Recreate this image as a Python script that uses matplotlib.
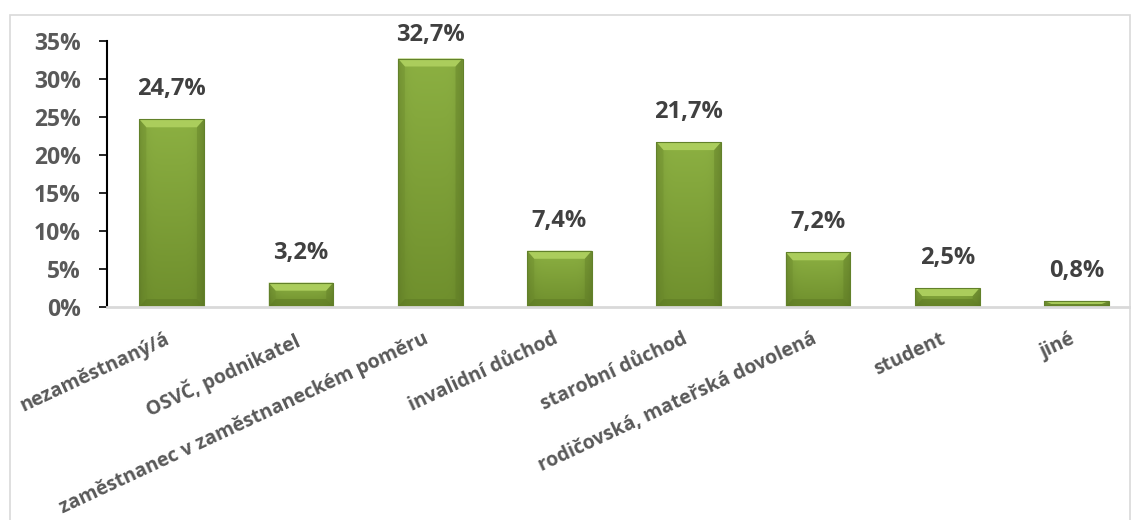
import numpy as np
import matplotlib
matplotlib.use('Agg')
import matplotlib.pyplot as plt
import matplotlib.transforms as mtransforms
from matplotlib.patches import Rectangle, Polygon
from matplotlib.colors import to_rgb
from matplotlib.ticker import FuncFormatter

plt.rcParams['font.family'] = ['Open Sans', 'DejaVu Sans']

categories = ['nezaměstnaný/á', 'OSVČ, podnikatel', 'zaměstnanec v zaměstnaneckém poměru',
              'invalidní důchod', 'starobní důchod', 'rodičovská, mateřská dovolená',
              'student', 'jiné']
values = [24.7, 3.2, 32.7, 7.4, 21.7, 7.2, 2.5, 0.8]
yticks = [0, 5, 10, 15, 20, 25, 30, 35]

DPI = 100
fig = plt.figure(figsize=(11.31, 5.2), dpi=DPI)
ax = fig.add_axes([0.0946, 0.4096, 0.9145, 0.5115])
ax.set_xlim(-0.5, 7.5)
ax.set_ylim(0, 35)

# outer chart frame
fig.patches.append(Rectangle((10 / 1131, -0.01), 1120 / 1131, 1 - 15 / 520 + 0.01,
                             transform=fig.transFigure, fill=False,
                             edgecolor='#d9d9d9', lw=1.2))

bar_w = 0.5

# pixel -> data scale for the bevel size
px_x = 1.0 / (ax.transData.transform((1, 0))[0] - ax.transData.transform((0, 0))[0])
px_y = 1.0 / (ax.transData.transform((0, 1))[1] - ax.transData.transform((0, 0))[1])
bx, by = 7 * px_x, 8 * px_y


def face_image(height_px):
    # vertical gradient light at top, darker at bottom, slightly darker at the sides
    top = np.array(to_rgb('#8cb042'))
    bot = np.array(to_rgb('#6f8f2d'))
    ny = max(int(height_px), 2)
    t = np.linspace(0, 1, ny)[:, None, None]
    col = bot * (1 - t) + top * t
    xs = np.linspace(-1, 1, 64)[None, :, None]
    shade = 1 - 0.15 * np.abs(xs) ** 6
    return np.clip(col * shade, 0, 1)


fig_h_px = fig.get_size_inches()[1] * DPI
label_max_bottom = fig_h_px - 47  # keep value labels inside the plot frame

for i, v in enumerate(values):
    x0, x1 = i - bar_w / 2, i + bar_w / 2
    bvy = min(by, v / 2)
    bvx = min(bx, bar_w / 2)
    rect = Rectangle((x0, 0), bar_w, v, facecolor='none', edgecolor='none')
    ax.add_patch(rect)
    im = ax.imshow(face_image(v / px_y), extent=(x0, x1, 0, v), aspect='auto',
                   origin='lower', zorder=2, interpolation='bilinear')
    im.set_clip_path(rect)
    # bevel: light top, darker sides and bottom
    ax.add_patch(Polygon([(x0, v), (x1, v), (x1 - bvx, v - bvy), (x0 + bvx, v - bvy)],
                         closed=True, facecolor='#abcd5c', edgecolor='none', zorder=3))
    ax.add_patch(Polygon([(x0, 0), (x0, v), (x0 + bvx, v - bvy), (x0 + bvx, bvy)],
                         closed=True, facecolor='#6b8a2b', edgecolor='none', alpha=0.35,
                         zorder=3))
    ax.add_patch(Polygon([(x1, 0), (x1, v), (x1 - bvx, v - bvy), (x1 - bvx, bvy)],
                         closed=True, facecolor='#5f7c25', edgecolor='none', alpha=0.4,
                         zorder=3))
    ax.add_patch(Polygon([(x0, 0), (x1, 0), (x1 - bvx, bvy), (x0 + bvx, bvy)],
                         closed=True, facecolor='#5e7a24', edgecolor='none', alpha=0.55,
                         zorder=3))
    ax.add_patch(Rectangle((x0, 0), bar_w, v, facecolor='none', edgecolor='#62812a',
                           lw=0.8, zorder=4))
    # value label above the bar, pushed down when it would leave the frame
    top_px = ax.transData.transform((i, v))[1]
    off_px = min(18, label_max_bottom - top_px)
    ax.annotate(f'{v:.1f}%'.replace('.', ','), (i, v), xytext=(0, off_px * 72 / DPI),
                textcoords='offset points', ha='center', va='bottom',
                fontsize=17, fontweight='bold', color='#404040')

ax.set_yticks(yticks)
ax.yaxis.set_major_formatter(FuncFormatter(lambda y, p: f'{y:.0f}%'))
ax.tick_params(axis='y', direction='out', length=6, width=1.2, color='black',
               pad=13, labelsize=16.5, labelcolor='#595959')
for lab in ax.get_yticklabels():
    lab.set_fontweight('bold')

ax.set_xticks(range(len(categories)))
ax.set_xticklabels(categories, rotation=25, ha='right', rotation_mode='anchor',
                   fontsize=14, fontweight='bold', color='#595959')
ax.tick_params(axis='x', length=0, pad=16)
shift = mtransforms.ScaledTranslation(-7 / DPI, 0, fig.dpi_scale_trans)
for lab in ax.get_xticklabels():
    lab.set_transform(lab.get_transform() + shift)

for s in ['top', 'right']:
    ax.spines[s].set_visible(False)
ax.spines['left'].set_color('black')
ax.spines['left'].set_linewidth(1.5)
ax.spines['bottom'].set_color('#d9d9d9')
ax.spines['bottom'].set_linewidth(2)
ax.spines['bottom'].set_zorder(5)

fig.savefig('out.png', dpi=DPI)
